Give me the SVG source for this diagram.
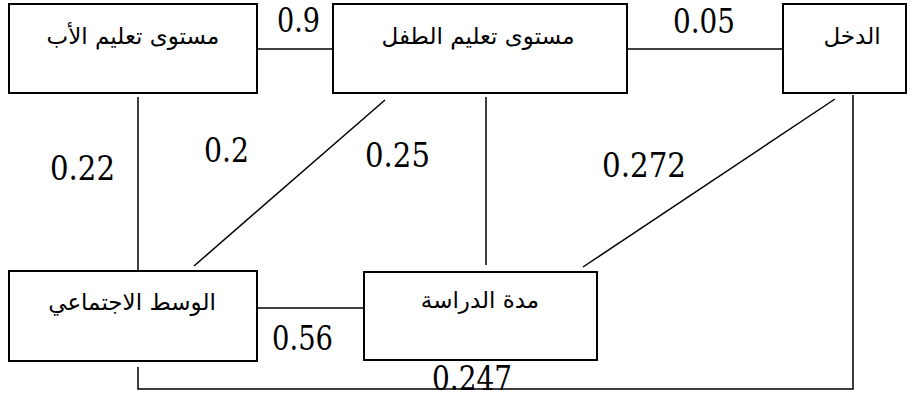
<svg xmlns="http://www.w3.org/2000/svg" width="910" height="398" viewBox="0 0 910 398">
<style>
.box{fill:#fff;stroke:#000;stroke-width:2}
.ln{fill:none;stroke:#000;stroke-width:1.5}
.ar{font-family:"DejaVu Sans",sans-serif;font-size:23px;text-anchor:middle;fill:#000}
.num{font-family:"DejaVu Serif",serif;font-stretch:condensed;font-size:34px;fill:#000}
</style>
<rect width="910" height="398" fill="#fff"/>
<g id="connectors">
<line class="ln" x1="257" y1="49" x2="333" y2="49"/>
<line class="ln" x1="627" y1="49" x2="783" y2="49"/>
<line class="ln" x1="138" y1="97" x2="138" y2="271"/>
<line class="ln" x1="385" y1="100" x2="194" y2="266"/>
<line class="ln" x1="486" y1="97" x2="486" y2="265"/>
<line class="ln" x1="835" y1="99" x2="583" y2="267"/>
<line class="ln" x1="257" y1="308" x2="364" y2="308"/>
<polyline class="ln" points="138,367 138,389 853,389 853,95"/>
</g>
<g id="labels">
<text class="num" x="277" y="32" textLength="43" lengthAdjust="spacingAndGlyphs">0.9</text>
<text class="num" x="673" y="33" textLength="62" lengthAdjust="spacingAndGlyphs">0.05</text>
<text class="num" x="50" y="180" textLength="65" lengthAdjust="spacingAndGlyphs">0.22</text>
<text class="num" x="204" y="162" textLength="45" lengthAdjust="spacingAndGlyphs">0.2</text>
<text class="num" x="365" y="167" textLength="65" lengthAdjust="spacingAndGlyphs">0.25</text>
<text class="num" x="602" y="177" textLength="84" lengthAdjust="spacingAndGlyphs">0.272</text>
<text class="num" x="272" y="350" textLength="61" lengthAdjust="spacingAndGlyphs">0.56</text>
<text class="num" x="432" y="390" textLength="80" lengthAdjust="spacingAndGlyphs">0.247</text>
</g>
<g id="father">
<rect class="box" x="9" y="4" width="248" height="89"/>
<text class="ar" x="133" y="44">مستوى تعليم الأب</text>
</g>
<g id="child">
<rect class="box" x="333" y="4" width="294" height="89"/>
<text class="ar" x="478" y="44">مستوى تعليم الطفل</text>
</g>
<g id="income">
<rect class="box" x="783" y="4" width="123" height="89"/>
<text class="ar" x="852" y="44">الدخل</text>
</g>
<g id="social">
<rect class="box" x="9" y="271" width="248" height="90"/>
<text class="ar" x="132" y="310">الوسط الاجتماعي</text>
</g>
<g id="duration">
<rect class="box" x="364" y="272" width="233" height="88"/>
<text class="ar" x="480" y="308">مدة الدراسة</text>
</g>
</svg>
